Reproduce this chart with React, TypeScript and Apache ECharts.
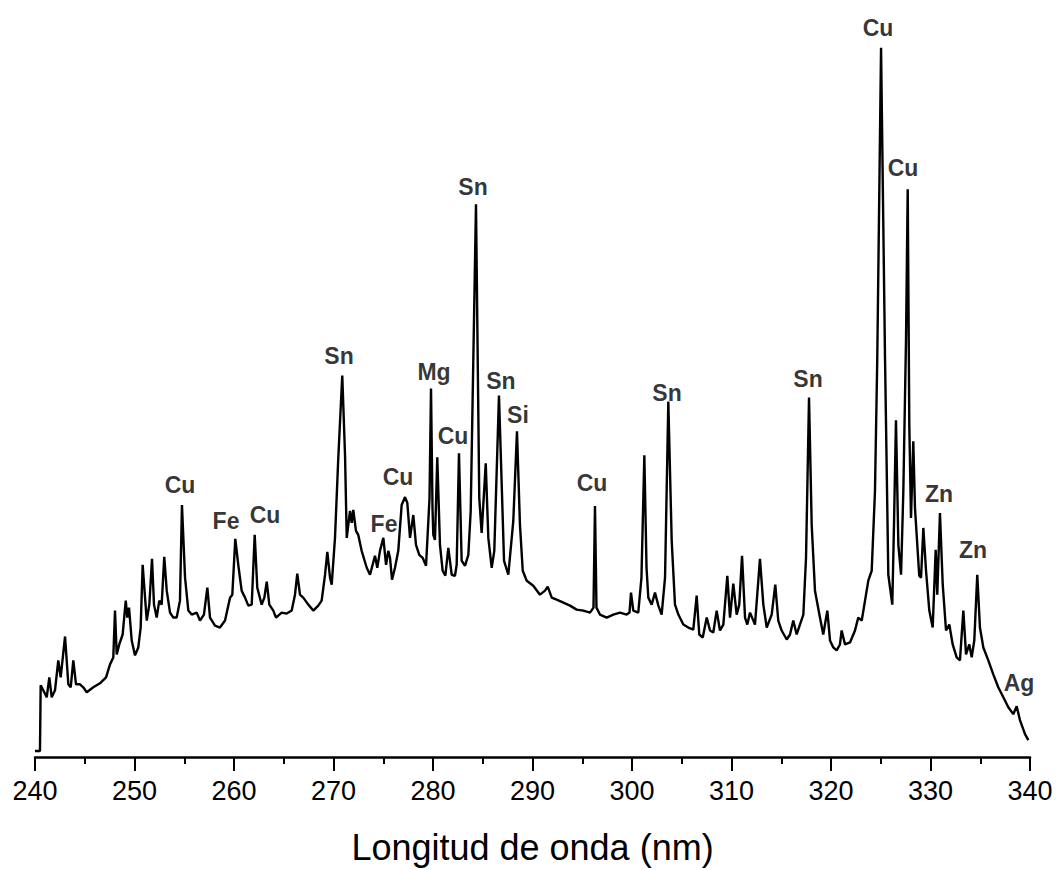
import React, { useEffect, useRef } from "react";
import * as echarts from "echarts";

// Wavelength (nm) and relative intensity (arbitrary units)
const wavelength: number[] = [
  240.0, 240.5, 240.57, 240.83, 241.18, 241.44, 241.68, 242.01, 242.34, 242.58,
  243.02, 243.35, 243.59, 243.85, 244.12, 244.52, 244.85, 245.2, 245.86, 246.53,
  247.14, 247.54, 247.87, 248.04, 248.21, 248.47, 248.81, 249.12, 249.28, 249.45,
  249.72, 250.05, 250.38, 250.62, 250.82, 251.23, 251.49, 251.76, 251.96, 252.23,
  252.49, 252.73, 252.99, 253.24, 253.57, 253.9, 254.24, 254.57, 254.77, 255.08,
  255.41, 255.75, 256.25, 256.58, 256.98, 257.32, 257.59, 258.09, 258.59, 259.1,
  259.6, 259.83, 260.13, 260.43, 260.77, 261.11, 261.44, 261.78, 262.08, 262.34,
  262.78, 263.05, 263.29, 263.55, 263.95, 264.22, 264.79, 265.3, 265.8, 266.13,
  266.36, 266.63, 266.96, 267.47, 267.97, 268.47, 268.81, 269.15, 269.38, 269.65,
  269.82, 270.15, 270.48, 270.88, 271.16, 271.33, 271.66, 271.83, 271.99, 272.26,
  272.49, 272.83, 273.34, 273.67, 274.17, 274.4, 274.67, 275.01, 275.28, 275.51,
  275.68, 275.88, 276.18, 276.51, 276.85, 277.19, 277.42, 277.69, 278.02, 278.29,
  278.62, 278.96, 279.3, 279.65, 279.8, 279.95, 280.03, 280.2, 280.43, 280.7,
  280.97, 281.24, 281.54, 281.88, 282.21, 282.38, 282.61, 282.88, 283.22, 283.55,
  283.79, 284.32, 284.65, 284.89, 285.3, 285.56, 285.9, 286.16, 286.63, 287.14,
  287.57, 288.07, 288.44, 288.74, 289.02, 289.42, 290.08, 290.75, 291.26, 291.53,
  291.93, 292.43, 293.1, 293.77, 294.44, 295.11, 295.78, 296.13, 296.28, 296.43,
  296.78, 297.46, 298.12, 298.79, 299.47, 299.75, 299.9, 300.13, 300.63, 300.95,
  301.24, 301.46, 301.64, 301.98, 302.31, 302.65, 302.98, 303.32, 303.65, 303.99,
  304.32, 304.66, 305.16, 305.66, 306.16, 306.5, 306.76, 307.11, 307.51, 307.84,
  308.17, 308.51, 308.84, 309.18, 309.58, 309.85, 310.18, 310.52, 310.78, 311.06,
  311.36, 311.59, 311.86, 312.36, 312.86, 313.2, 313.54, 314.04, 314.4, 314.7,
  315.04, 315.55, 315.88, 316.21, 316.55, 316.88, 317.22, 317.49, 317.79, 318.06,
  318.39, 318.89, 319.22, 319.63, 319.9, 320.23, 320.57, 320.9, 321.07, 321.41,
  321.91, 322.41, 322.74, 323.09, 323.42, 323.75, 324.09, 324.42, 324.65, 325.03,
  325.43, 325.76, 326.16, 326.33, 326.53, 326.77, 327.04, 327.27, 327.54, 327.71,
  327.87, 328.04, 328.27, 328.44, 328.61, 328.87, 329.05, 329.28, 329.55, 329.88,
  330.22, 330.52, 330.68, 330.95, 331.23, 331.56, 331.89, 332.23, 332.63, 332.96,
  333.3, 333.57, 333.9, 334.14, 334.4, 334.7, 334.97, 335.31, 335.81, 336.31,
  336.81, 337.32, 337.82, 338.32, 338.66, 338.99, 339.5, 339.83,
];

const intensity: number[] = [
  6, 6, 72, 67, 60, 80, 60, 67, 97, 80,
  121, 73, 70, 97, 73, 73, 70, 65, 70, 74,
  80, 93, 100, 147, 103, 113, 123, 157, 140, 150,
  117, 102, 110, 130, 193, 137, 153, 199, 153, 140,
  157, 153, 201, 167, 145, 140, 140, 157, 253, 180,
  147, 143, 145, 137, 143, 170, 140, 132, 130, 137,
  160, 163, 219, 193, 167, 160, 152, 153, 223, 170,
  153, 160, 176, 153, 147, 140, 145, 144, 147, 163,
  184, 163, 160, 153, 147, 152, 157, 183, 206, 180,
  173, 220, 300, 383, 303, 220, 247, 235, 248, 227,
  223, 207, 190, 183, 202, 190, 207, 220, 193, 207,
  200, 178, 190, 207, 253, 261, 255, 220, 243, 213,
  203, 200, 192, 260, 370, 250, 223, 218, 301, 213,
  187, 182, 210, 183, 182, 193, 305, 197, 192, 203,
  247, 555, 260, 225, 295, 220, 190, 207, 363, 197,
  183, 237, 327, 233, 187, 177, 172, 163, 167, 171,
  160, 158, 155, 152, 148, 147, 145, 150, 252, 150,
  143, 140, 143, 145, 143, 145, 165, 147, 145, 180,
  303, 190, 160, 153, 165, 152, 143, 180, 357, 217,
  153, 143, 133, 130, 128, 162, 123, 120, 140, 127,
  125, 147, 127, 133, 182, 140, 174, 143, 153, 202,
  140, 133, 145, 133, 199, 153, 130, 143, 173, 137,
  127, 118, 123, 137, 123, 133, 143, 200, 361, 233,
  167, 140, 123, 147, 117, 110, 107, 113, 127, 113,
  115, 127, 140, 137, 157, 177, 187, 267, 400, 712,
  400, 183, 153, 233, 338, 213, 183, 267, 420, 570,
  333, 240, 317, 250, 223, 182, 180, 230, 187, 147,
  130, 208, 163, 245, 173, 127, 133, 113, 100, 97,
  147, 103, 113, 100, 117, 183, 130, 110, 97, 83,
  70, 60, 50, 43, 51, 37, 23, 17,
];

// Element annotations: name, wavelength position, height position
const peakNames: string[] = [
  "Cu", "Fe", "Cu", "Sn", "Fe", "Cu", "Mg", "Cu", "Sn", "Sn",
  "Si", "Cu", "Sn", "Sn", "Cu", "Cu", "Zn", "Zn", "Ag",
];
const peakLabelX: number[] = [
  254.57, 259.2, 263.12, 270.55, 275.08, 276.48, 280.1, 282.01, 284.02, 286.83,
  288.54, 295.98, 303.52, 317.69, 324.72, 327.24, 330.85, 334.27, 338.89,
];
const peakLabelY: number[] = [
  273, 237, 243, 403, 234, 281, 387, 322, 572, 378,
  343, 275, 365, 380, 732, 591, 264, 208, 74,
];

const xTicks = { min: 240, max: 340, interval: 10 };
const xAxisTitle = "Longitud de onda (nm)";

export default function App() {
  const ref = useRef<HTMLDivElement | null>(null);

  useEffect(() => {
    document.body.style.margin = "0";
    if (!ref.current) return;
    const chart = echarts.init(ref.current, undefined, { renderer: "svg" });
    const font = "'Liberation Sans', Arial, Helvetica, sans-serif";
    const spectrum = wavelength.map((w, i) => [w, intensity[i]]);
    const labels = peakNames.map((n, i) => ({
      name: n,
      value: [peakLabelX[i], peakLabelY[i]],
    }));
    chart.setOption({
      animation: false,
      backgroundColor: "#ffffff",
      grid: { left: 35, right: 28, top: 20, bottom: 110 },
      xAxis: {
        type: "value",
        min: xTicks.min,
        max: xTicks.max,
        interval: xTicks.interval,
        name: xAxisTitle,
        nameLocation: "middle",
        nameGap: 72,
        nameTextStyle: { fontSize: 36, color: "#000", fontFamily: font },
        axisLine: { show: true, lineStyle: { color: "#000", width: 2.5 } },
        axisTick: {
          show: true,
          inside: false,
          length: 14,
          lineStyle: { color: "#000", width: 2 },
        },
        minorTick: {
          show: true,
          splitNumber: 2,
          length: 7,
          lineStyle: { color: "#000", width: 2 },
        },
        axisLabel: {
          fontSize: 27,
          color: "#000",
          margin: 20,
          fontFamily: font,
        },
        splitLine: { show: false },
      },
      yAxis: {
        type: "value",
        min: 0,
        max: 740,
        show: false,
      },
      series: [
        {
          type: "line",
          data: spectrum,
          showSymbol: false,
          symbol: "none",
          lineStyle: { color: "#000", width: 2.4 },
          clip: false,
          z: 2,
        },
        {
          type: "scatter",
          data: labels,
          symbolSize: 1,
          itemStyle: { color: "rgba(0,0,0,0)" },
          clip: false,
          label: {
            show: true,
            position: "inside",
            formatter: "{b}",
            color: "#000",
            fontSize: 23,
            fontWeight: "bold",
            fontFamily: font,
          },
          z: 3,
        },
      ],
    });
    return () => {
      chart.dispose();
    };
  }, []);

  return <div ref={ref} style={{ width: 1058, height: 870 }} />;
}
